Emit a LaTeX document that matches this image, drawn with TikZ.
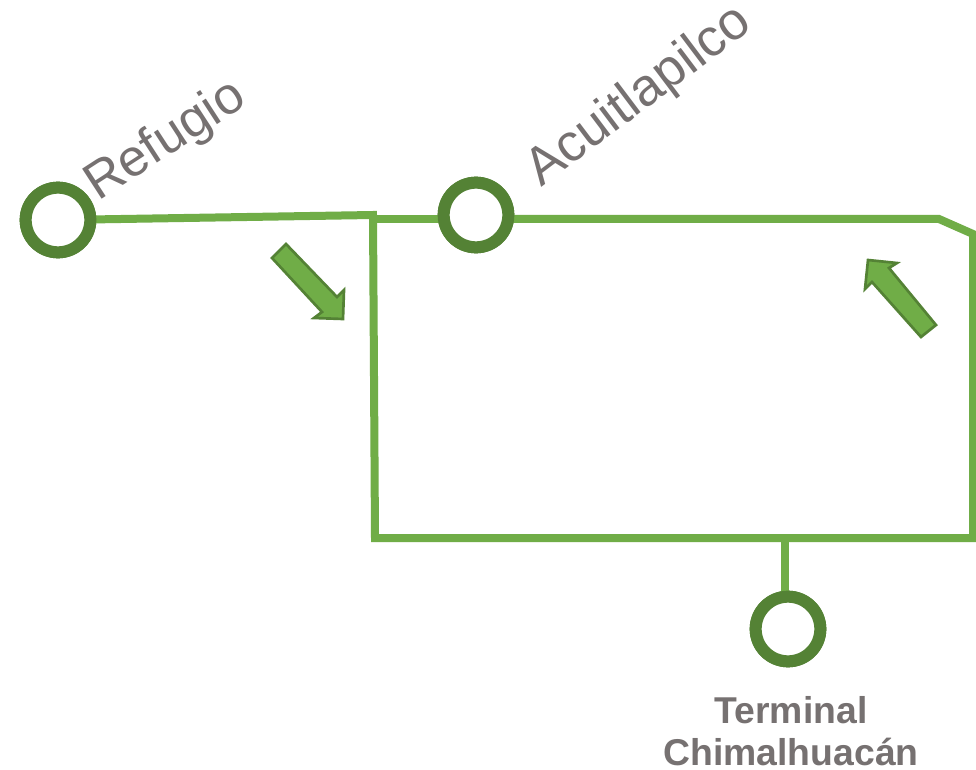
\documentclass[tikz,border=0pt]{standalone}
\usepackage{fontspec}
\setmainfont{Liberation Sans}
\definecolor{lineg}{HTML}{70AD47}
\definecolor{darkg}{HTML}{548235}
\definecolor{greytxt}{HTML}{767171}
\tikzset{
  route/.style={draw=lineg,line width=6pt,line join=miter},
  stop/.style={circle,draw=darkg,fill=white,line width=9pt,minimum size=48.5pt,inner sep=0pt},
  dirarrow/.style={draw=darkg,fill=lineg,line width=2pt,line join=miter},
  slanted/.style={text=greytxt,anchor=south west,inner sep=0pt},
  termlabel/.style={text=greytxt,font=\bfseries\fontsize{28}{32}\selectfont,align=center,inner sep=0pt}
}
\begin{document}
\begin{tikzpicture}[x=0.75pt,y=-0.75pt]
\useasboundingbox (0,0) rectangle (976,770);
\fill[white] (0,0) rectangle (976,770);
\coordinate (j1) at (373,215);
\coordinate (j2) at (373,219);
\coordinate (c1) at (375,538);
\coordinate (c2) at (976,538);
\coordinate (b1) at (939,219);
\coordinate (b2) at (973,234);
\coordinate (b3) at (973,538);
\coordinate (t1) at (785,538);
\node[stop] (refugio) at (58,220) {};
\node[stop] (acuit) at (476,215) {};
\node[stop] (term) at (788,629) {};
\draw[route] (refugio.center) -- (j1) -- (c1) -- (c2);
\draw[route] (j2) -- (j2 -| acuit.center);
\draw[route] (j2 -| acuit.center) -- (b1) -- (b2) -- (b3);
\draw[route] (t1) -- (t1 |- term.center);
\node[stop] at (refugio) {};
\node[stop] at (acuit) {};
\node[stop] at (term) {};
\draw[dirarrow] (272,258) -- (286,244) -- (337,297) -- (344,290) -- (343,319) -- (314,318) -- (322,312) -- cycle;
\draw[dirarrow] (936,325) -- (921,337) -- (872,282) -- (865,289) -- (868,260) -- (897,263) -- (889,268) -- cycle;
\node[slanted,rotate=33,font=\fontsize{39}{39}\selectfont] (lref) at (104,211) {Refugio};
\node[slanted,rotate=37,font=\fontsize{39.5}{39.5}\selectfont] (lacu) at (548,197) {Acuitlapilco};
\node[termlabel] (lterm) at (791,731) {Terminal\\Chimalhuacán};
\end{tikzpicture}
\end{document}
